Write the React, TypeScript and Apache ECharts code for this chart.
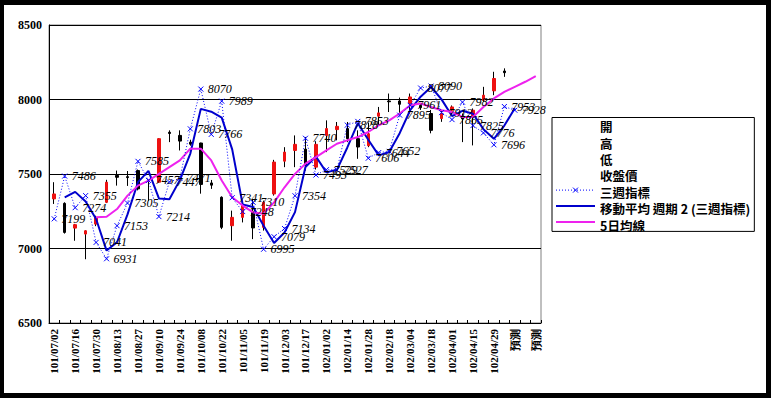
import { useEffect, useRef } from 'react';
import * as echarts from 'echarts';

const categories = [
  '101/07/02', '101/07/09', '101/07/16', '101/07/23', '101/07/30', '101/08/06', '101/08/13', '101/08/20',
  '101/08/27', '101/09/03', '101/09/10', '101/09/17', '101/09/24', '101/10/01', '101/10/08', '101/10/15',
  '101/10/22', '101/10/29', '101/11/05', '101/11/12', '101/11/19', '101/11/26', '101/12/03', '101/12/10',
  '101/12/17', '101/12/24', '102/01/02', '102/01/07', '102/01/14', '102/01/21', '102/01/28', '102/02/04',
  '102/02/18', '102/02/25', '102/03/04', '102/03/11', '102/03/18', '102/03/25', '102/04/01', '102/04/08',
  '102/04/15', '102/04/22', '102/04/29', '102/05/06', '預測', '預測', '預測',
];

const openPrices = [
  7333, 7303, 7137, 7097, 7164, 7310, 7490, 7482, 7523, 7460, 7445, 7780, 7759, 7714, 7708, 7440,
  7344, 7153, 7209, 7242, 7142, 7366, 7586, 7658, 7667, 7546, 7759, 7798, 7805, 7737, 7690, 7888,
  7990, 7990, 7973, 7960, 7906, 7872, 7928, 7880, 7883, 7995, 8058, 8191,
];
const closePrices = [
  7366, 7108, 7160, 7119, 7209, 7445, 7478, 7476, 7400, 7455, 7737, 7772, 7721, 7700, 7430, 7425,
  7142, 7209, 7288, 7138, 7310, 7580, 7647, 7699, 7557, 7699, 7805, 7820, 7737, 7681, 7770, 7910,
  7985, 7968, 8017, 7945, 7793, 7906, 7950, 7870, 7928, 8029, 8141, 8180,
];
const lowPrices = [
  7299, 7100, 7052, 6928, 7150, 7305, 7422, 7420, 7390, 7320, 7440, 7714, 7658, 7690, 7368, 7400,
  7130, 7052, 7175, 7063, 7120, 7355, 7546, 7546, 7523, 7530, 7647, 7726, 7714, 7602, 7680, 7827,
  7916, 7906, 7906, 7930, 7773, 7850, 7900, 7714, 7692, 7985, 8029, 8152,
];
const highPrices = [
  7445, 7310, 7165, 7122, 7220, 7461, 7523, 7520, 7530, 7462, 7740, 7793, 7793, 7730, 7710, 7460,
  7350, 7254, 7310, 7333, 7321, 7595, 7680, 7759, 7748, 7720, 7860, 7849, 7849, 7793, 7845, 7950,
  8040, 8013, 8040, 7975, 7930, 7930, 7960, 7906, 7940, 8085, 8186, 8209,
];

const threeWeekIndex = [
  7199, 7486, 7274, 7355, 7041, 6931, 7153, 7305, 7585, 7457, 7214, 7447, 7471, 7803, 8070, 7766,
  7989, 7341, 7248, 7310, 6995, 7079, 7134, 7354, 7740, 7493, 7529, 7527, 7828, 7853, 7606, 7644,
  7652, 7895, 7961, 8077, 8090, 7912, 7865, 7982, 7825, 7776, 7696, 7953, 7928,
];

const movingAvg2 = [
  null, 7343, 7380, 7315, 7198, 6986, 7042, 7229, 7445, 7521, 7336, 7331, 7459, 7637, 7937, 7918,
  7878, 7665, 7295, 7279, 7153, 7037, 7107, 7244, 7547, 7617, 7511, 7528, 7678, 7841, 7730, 7625,
  7648, 7774, 7928, 8019, 8084, 8001, 7889, 7924, 7904, 7801, 7736, 7825, 7941,
];

const fiveDayAvg = [
  null, null, null, null, 7209, 7213, 7265, 7355, 7422, 7456, 7501, 7546, 7591, 7670, 7670, 7591,
  7456, 7344, 7288, 7242, 7234, 7310, 7411, 7501, 7569, 7613, 7658, 7703, 7726, 7748, 7782, 7827,
  7860, 7906, 7962, 7973, 7950, 7928, 7916, 7883, 7883, 7950, 8007, 8051, 8085, 8119, 8157,
];

const yMin = 6500;
const yMax = 8500;
const yStep = 500;

const legendNames = ['開', '高', '低', '收盤價', '三週指標', '移動平均 週期 2 (三週指標)', '5日均線'];

export default function App() {
  const ref = useRef<HTMLDivElement>(null);

  useEffect(() => {
    const chart = echarts.init(ref.current as HTMLDivElement, null, { renderer: 'svg' });
    const xSymbol = 'path://M0,0L10,10M10,0L0,10';
    const wickData = lowPrices.map((l, i) => [l, highPrices[i], l, highPrices[i]]);
    const bodyData = openPrices.map((o, i) => {
      const c = closePrices[i];
      return [o, c, Math.min(o, c), Math.max(o, c)];
    });

    const legendLeft = 548;
    const legendTop = 112.5;
    const rowPitch = 15.9;
    const rowY = (k: number) => legendTop + 3 + 6 + k * rowPitch;
    const iconX1 = legendLeft + 4;
    const iconX2 = iconX1 + 39;
    const iconMid = (iconX1 + iconX2) / 2;

    chart.setOption({
      animation: false,
      backgroundColor: '#ffffff',
      grid: {
        left: 45,
        top: 20,
        width: 492,
        height: 298,
        show: true,
        borderColor: '#808080',
        borderWidth: 1,
        backgroundColor: 'transparent',
      },
      legend: {
        orient: 'vertical',
        left: legendLeft,
        top: legendTop,
        itemWidth: 39,
        itemHeight: 12,
        itemGap: 3.9,
        padding: [3, 4, 0, 4],
        borderColor: '#000',
        borderWidth: 1,
        backgroundColor: '#fff',
        selectedMode: false,
        textStyle: { fontFamily: 'Noto Sans CJK TC', fontSize: 12.5, fontWeight: 'bold', color: '#000' },
        data: legendNames.map((name) => ({ name, icon: 'none' })),
      },
      graphic: [
        {
          type: 'line',
          z: 100,
          shape: { x1: iconX1, y1: rowY(4), x2: iconX2, y2: rowY(4) },
          style: { stroke: '#0000ff', lineWidth: 1, lineDash: [1, 2] },
        },
        {
          type: 'line',
          z: 100,
          shape: { x1: iconMid - 2.5, y1: rowY(4) - 2.5, x2: iconMid + 2.5, y2: rowY(4) + 2.5 },
          style: { stroke: '#0000ff', lineWidth: 1 },
        },
        {
          type: 'line',
          z: 100,
          shape: { x1: iconMid - 2.5, y1: rowY(4) + 2.5, x2: iconMid + 2.5, y2: rowY(4) - 2.5 },
          style: { stroke: '#0000ff', lineWidth: 1 },
        },
        {
          type: 'line',
          z: 100,
          shape: { x1: iconX1, y1: rowY(5), x2: iconX2, y2: rowY(5) },
          style: { stroke: '#0000cc', lineWidth: 2 },
        },
        {
          type: 'line',
          z: 100,
          shape: { x1: iconX1, y1: rowY(6), x2: iconX2, y2: rowY(6) },
          style: { stroke: '#ee22ee', lineWidth: 2 },
        },
      ],
      xAxis: {
        type: 'category',
        data: categories,
        boundaryGap: true,
        axisLine: { show: true, lineStyle: { color: '#000', width: 1 } },
        axisTick: { show: true, interval: 0, inside: true, length: 3, lineStyle: { color: '#000' } },
        axisLabel: {
          interval: 1,
          rotate: 90,
          margin: 6,
          color: '#000',
          fontFamily: 'Liberation Serif',
          fontWeight: 'bold',
          fontSize: 11,
        },
        splitLine: { show: false },
      },
      yAxis: {
        type: 'value',
        min: yMin,
        max: yMax,
        interval: yStep,
        axisLine: { show: true, lineStyle: { color: '#000', width: 1 } },
        axisTick: { show: false },
        axisLabel: {
          margin: 7,
          color: '#000',
          fontFamily: 'Liberation Serif',
          fontWeight: 'bold',
          fontSize: 12,
          formatter: (v: number) => String(v),
        },
        splitLine: { show: true, lineStyle: { color: '#000', width: 1 } },
      },
      series: [
        { name: '開', type: 'line', data: [] },
        { name: '高', type: 'line', data: [] },
        { name: '低', type: 'line', data: [] },
        {
          name: '高低線',
          type: 'candlestick',
          data: wickData,
          barWidth: 0.01,
          itemStyle: {
            color: '#000',
            color0: '#000',
            borderColor: '#000',
            borderColor0: '#000',
            borderWidth: 1,
          },
        },
        {
          name: '收盤價',
          type: 'candlestick',
          data: bodyData,
          barWidth: 3,
          itemStyle: {
            color: '#ee1111',
            color0: '#000',
            borderColor: '#ee1111',
            borderColor0: '#000',
            borderWidth: 1,
          },
        },
        {
          name: '三週指標',
          type: 'line',
          data: threeWeekIndex,
          symbol: xSymbol,
          symbolSize: 5,
          showSymbol: true,
          showAllSymbol: true,
          lineStyle: { type: [1, 2], width: 1, color: '#0000ff' },
          itemStyle: { color: '#0000ff', borderColor: '#0000ff', borderWidth: 1 },
          label: {
            show: true,
            position: 'right',
            distance: 4,
            color: '#000',
            fontFamily: 'Liberation Serif',
            fontStyle: 'italic',
            fontSize: 12,
          },
          z: 4,
        },
        {
          name: '移動平均 週期 2 (三週指標)',
          type: 'line',
          data: movingAvg2,
          symbol: 'none',
          lineStyle: { color: '#0000cc', width: 2 },
          itemStyle: { color: '#0000cc' },
          z: 3,
        },
        {
          name: '5日均線',
          type: 'line',
          data: fiveDayAvg,
          symbol: 'none',
          lineStyle: { color: '#ee22ee', width: 2 },
          itemStyle: { color: '#ee22ee' },
          z: 3,
        },
      ],
    });

    return () => chart.dispose();
  }, []);

  return (
    <div style={{ position: 'fixed', left: 0, top: 0, width: 771, height: 398, background: '#000' }}>
      <div
        ref={ref}
        style={{ position: 'absolute', left: 4, top: 5, width: 762, height: 388, background: '#fff' }}
      />
    </div>
  );
}
